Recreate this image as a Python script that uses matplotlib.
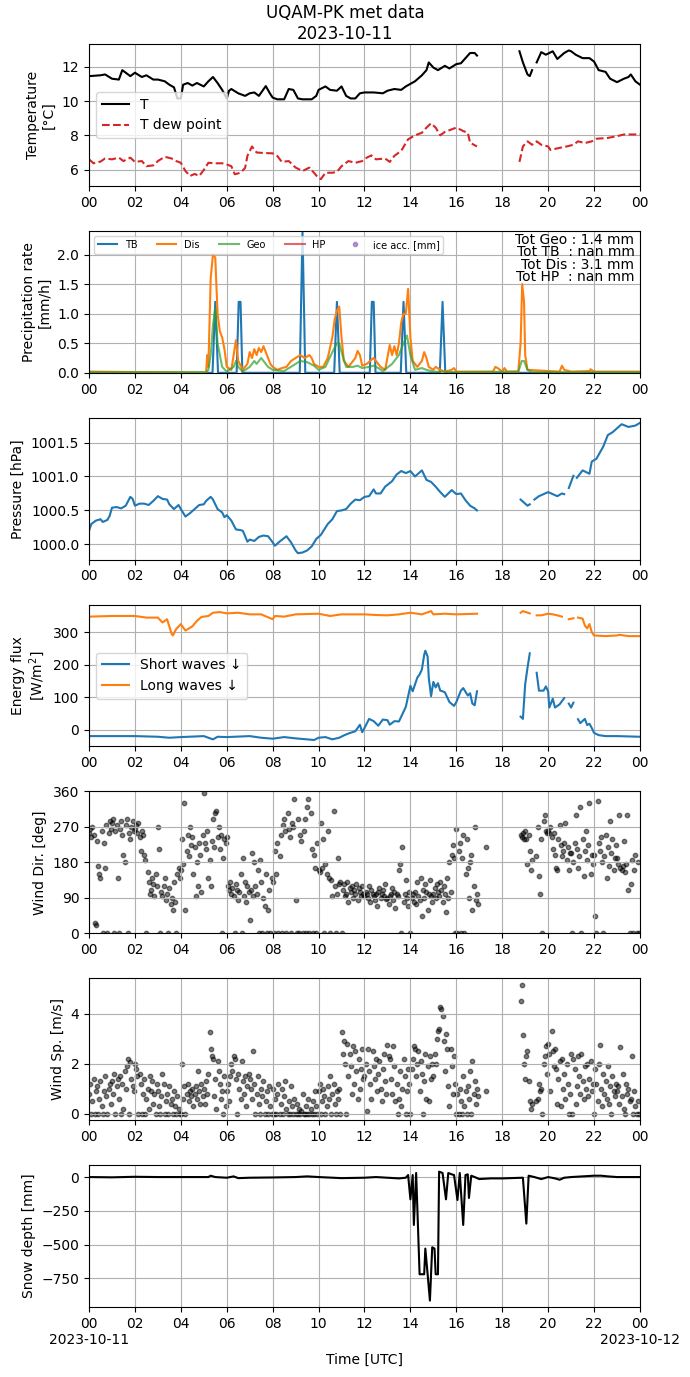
import numpy as np
import pandas as pd
import matplotlib
matplotlib.use("Agg")
import matplotlib.pyplot as plt
import matplotlib.dates as mdates

nan = np.nan
DAY = "2023-10-11"

# ---------------- Temperature ----------------
t_T = [0, 0.5, 0.7, 1.0, 1.3, 1.45, 1.5, 1.8, 2.0, 2.3, 2.5, 2.8, 3.0, 3.3, 3.5, 3.7, 3.85, 4.0, 4.1,
       4.3, 4.5, 4.7, 5.0, 5.2, 5.4, 5.6, 5.8, 6.0, 6.1, 6.2, 6.5, 6.8, 7.0, 7.2, 7.4, 7.7, 7.9, 8.0,
       8.2, 8.5, 8.7, 8.9, 9.1, 9.3, 9.7, 9.9, 10.0, 10.3, 10.5, 10.8, 11.0, 11.2, 11.4, 11.6, 11.8,
       12.0, 12.4, 12.8, 13.0, 13.3, 13.6, 13.8, 14.0, 14.2, 14.5, 14.7, 14.8, 15.0, 15.2, 15.5, 15.7,
       16.0, 16.2, 16.4, 16.6, 16.8, 16.9, 17.5, 18.75, 18.9, 19.1, 19.2, 19.3, 19.4, 19.5, 19.7,
       19.9, 20.2, 20.4, 20.7, 20.9, 21.0, 21.2, 21.5, 21.8, 22.0, 22.2, 22.5, 22.7, 23.0, 23.3, 23.5,
       23.6, 23.8, 24.0]
T_air = [11.45, 11.5, 11.55, 11.3, 11.25, 11.8, 11.75, 11.45, 11.65, 11.4, 11.5, 11.25, 11.25, 11.15,
         10.95, 10.8, 10.15, 10.15, 10.95, 11.05, 10.9, 11.05, 10.85, 11.15, 11.4, 11.05, 10.65, 10.15,
         10.6, 10.7, 10.45, 10.3, 10.45, 10.5, 10.3, 10.87, 10.4, 10.2, 10.1, 10.1, 10.7, 10.65, 10.15,
         10.1, 10.1, 10.3, 10.65, 10.85, 10.65, 10.6, 10.85, 10.3, 10.15, 10.15, 10.45, 10.5, 10.5,
         10.45, 10.6, 10.7, 10.65, 10.85, 11.0, 11.15, 11.5, 11.8, 12.25, 11.95, 11.8, 12.05, 11.9,
         12.15, 12.2, 12.5, 12.8, 12.8, 12.65, nan, 12.9, 12.25, 11.55, 11.45, 11.8, nan, 12.25, 12.85,
         12.7, 12.9, 12.45, 12.8, 12.95, 12.9, 12.7, 12.5, 12.5, 12.3, 11.8, 11.7, 11.3, 11.1, 11.3,
         11.4, 11.55, 11.15, 10.95]

t_Td = [0, 0.2, 0.5, 0.7, 1.0, 1.3, 1.5, 1.8, 2.0, 2.3, 2.5, 2.8, 3.0, 3.3, 3.6, 3.8, 4.0, 4.2, 4.4,
        4.6, 4.8, 5.0, 5.2, 5.5, 5.8, 6.0, 6.2, 6.35, 6.6, 6.8, 6.9, 7.1, 7.3, 7.6, 8.0, 8.2, 8.4, 8.7,
        9.0, 9.3, 9.6, 9.8, 10.0, 10.1, 10.3, 10.6, 10.8, 11.0, 11.3, 11.6, 11.9, 12.1, 12.3, 12.5,
        12.9, 13.1, 13.3, 13.6, 13.9, 14.2, 14.5, 14.7, 14.9, 15.1, 15.3, 15.5, 15.8, 16.0, 16.3, 16.5,
        16.6, 16.9, 17.5, 18.75, 18.9, 19.1, 19.3, 19.5, 19.7, 20.0, 20.1, 20.5, 20.8, 21.1, 21.3,
        21.6, 21.9, 22.1, 22.6, 23.0, 23.3, 23.6, 24.0]
T_dew = [6.6, 6.37, 6.47, 6.65, 6.6, 6.7, 6.5, 6.7, 6.45, 6.5, 6.2, 6.25, 6.5, 6.75, 6.65, 6.5, 6.4,
         5.92, 5.63, 5.75, 5.63, 5.98, 6.4, 6.37, 6.37, 6.3, 6.2, 5.73, 5.82, 6.1, 6.8, 7.35, 7.0, 6.97,
         6.95, 6.8, 6.45, 6.5, 6.12, 5.92, 6.12, 5.82, 5.5, 5.45, 5.82, 5.82, 5.87, 6.2, 6.5, 6.4, 6.5,
         6.7, 6.83, 6.6, 6.65, 6.45, 6.8, 7.1, 7.77, 8.0, 8.15, 8.45, 8.7, 8.45, 8.0, 8.2, 8.35, 8.45,
         8.25, 8.15, 7.57, 7.35, nan, 6.45, 7.35, 7.65, 7.45, 7.65, 7.45, 7.35, 7.15, 7.27, 7.35, 7.45,
         7.65, 7.55, 7.65, 7.8, 7.85, 7.95, 8.05, 8.05, 8.05]

# ---------------- Precipitation ----------------
t_TB = [0, 5.38, 5.5, 5.62, 6.43, 6.52, 6.6, 6.68, 9.18, 9.3, 9.42, 10.68, 10.8, 10.92, 12.23, 12.32,
        12.4, 12.48, 13.58, 13.7, 13.82, 15.28, 15.4, 15.52, 24]
TB = [0, 0, 1.2, 0, 0, 1.2, 1.2, 0, 0, 2.4, 0, 0, 1.2, 0, 0, 1.2, 1.2, 0, 0, 1.2, 0, 0, 1.2, 0, 0]

t_Dis = [0, 5.1, 5.15, 5.2, 5.3, 5.4, 5.5, 5.6, 5.7, 5.8, 5.9, 6.0, 6.2, 6.3, 6.4, 6.5, 6.7, 6.9, 7.0,
         7.1, 7.2, 7.3, 7.4, 7.5, 7.6, 7.7, 7.8, 7.9, 8.0, 8.2, 8.4, 8.6, 8.8, 9.0, 9.2, 9.4, 9.6, 9.7,
         9.8, 10.0, 10.2, 10.4, 10.6, 10.7, 10.8, 10.9, 11.0, 11.1, 11.3, 11.6, 11.7, 11.8, 11.9, 12.1,
         12.3, 12.4, 12.5, 12.7, 12.9, 13.1, 13.2, 13.3, 13.4, 13.5, 13.6, 13.7, 13.8, 13.9, 14.0, 14.1,
         14.3, 14.5, 14.6, 14.7, 14.8, 15.0, 15.1, 15.3, 15.5, 15.8, 15.9, 16.0, 17.6, 17.7, 17.8, 18.0,
         18.1, 18.2, 18.7, 18.8, 18.87, 18.95, 19.0, 19.1, 20.5, 20.6, 20.7, 21.0, 21.8, 21.85, 22.0, 24]
Dis = [0.02, 0.0, 0.3, 0.1, 1.6, 2.0, 1.95, 1.0, 0.7, 0.6, 0.4, 0.1, 0.05, 0.3, 0.55, 0.2, 0.05, 0.15,
       0.35, 0.25, 0.4, 0.3, 0.42, 0.35, 0.45, 0.35, 0.25, 0.15, 0.1, 0.05, 0.08, 0.1, 0.2, 0.25, 0.3,
       0.25, 0.3, 0.25, 0.15, 0.1, 0.1, 0.25, 0.6, 0.9, 1.05, 1.12, 0.6, 0.2, 0.1, 0.25, 0.37, 0.3, 0.12,
       0.15, 0.22, 0.25, 0.2, 0.1, 0.05, 0.47, 0.3, 0.45, 0.3, 0.5, 0.85, 1.0, 1.0, 1.42, 0.6, 0.2, 0.1,
       0.2, 0.35, 0.25, 0.1, 0.05, 0.1, 0.05, 0.02, 0.05, 0.08, 0.02, 0.02, 0.1, 0.08, 0.02, 0.08, 0.02,
       0.02, 0.5, 1.5, 1.2, 0.3, 0.05, 0.02, 0.12, 0.05, 0.02, 0.03, 0.06, 0.02, 0.02]

t_Geo = [0, 5.1, 5.2, 5.3, 5.4, 5.5, 5.6, 5.7, 5.8, 6.0, 6.3, 6.4, 6.5, 6.7, 7.0, 7.2, 7.3, 7.5, 7.6,
         7.8, 8.0, 8.5, 9.0, 9.2, 9.5, 9.8, 10.0, 10.3, 10.6, 10.8, 10.9, 11.0, 11.2, 11.5, 11.7, 11.9,
         12.2, 12.4, 12.6, 12.8, 13.2, 13.5, 13.7, 13.85, 14.0, 14.2, 14.5, 14.7, 15.0, 16.0, 18.7,
         18.85, 18.95, 19.1, 19.3, 24]
Geo = [0.01, 0.01, 0.05, 0.3, 0.8, 1.1, 0.5, 0.3, 0.1, 0.02, 0.1, 0.2, 0.1, 0.02, 0.1, 0.2, 0.15, 0.25,
       0.2, 0.1, 0.05, 0.03, 0.15, 0.2, 0.18, 0.12, 0.05, 0.1, 0.35, 0.5, 0.5, 0.35, 0.1, 0.1, 0.12,
       0.08, 0.1, 0.12, 0.08, 0.03, 0.15, 0.3, 0.5, 0.63, 0.3, 0.05, 0.08, 0.05, 0.02, 0.01, 0.02, 0.2,
       0.2, 0.05, 0.01, 0.01]

t_HP = [0, 24]
HP = [nan, nan]
ice_acc = []
tot_geo, tot_tb, tot_dis, tot_hp = 1.4, nan, 3.1, nan

# ---------------- Pressure ----------------
t_P = [0, 0.1, 0.3, 0.5, 0.6, 0.8, 0.9, 1.0, 1.2, 1.4, 1.6, 1.8, 1.9, 2.0, 2.2, 2.4, 2.6, 2.8, 3.0,
       3.2, 3.4, 3.5, 3.7, 3.9, 4.0, 4.2, 4.4, 4.6, 4.8, 5.0, 5.1, 5.3, 5.4, 5.6, 5.8, 5.9, 6.0, 6.2,
       6.4, 6.6, 6.7, 6.9, 7.0, 7.2, 7.4, 7.6, 7.8, 8.0, 8.1, 8.3, 8.6, 8.8, 9.0, 9.1, 9.3, 9.5, 9.7,
       9.9, 10.1, 10.4, 10.6, 10.8, 11.0, 11.2, 11.4, 11.6, 11.8, 12.0, 12.2, 12.4, 12.5, 12.7, 12.9,
       13.2, 13.4, 13.6, 13.8, 14.0, 14.2, 14.5, 14.7, 14.9, 15.1, 15.3, 15.5, 15.8, 16.0, 16.2, 16.4,
       16.6, 16.8, 16.9, 17.5, 18.8, 19.1, 19.2, 19.3, 19.4, 19.6, 19.8, 20.0, 20.2, 20.4, 20.6, 20.7,
       20.8, 20.9, 21.1, 21.18, 21.25, 21.5, 21.8, 21.9, 22.1, 22.4, 22.6, 22.8, 23.0, 23.2, 23.5, 23.8,
       24.0]
P = [1000.2, 1000.3, 1000.35, 1000.37, 1000.33, 1000.36, 1000.42, 1000.54, 1000.55, 1000.53, 1000.57,
     1000.7, 1000.67, 1000.57, 1000.6, 1000.6, 1000.58, 1000.64, 1000.71, 1000.67, 1000.66, 1000.59,
     1000.52, 1000.58, 1000.52, 1000.41, 1000.46, 1000.52, 1000.58, 1000.59, 1000.64, 1000.7, 1000.66,
     1000.52, 1000.47, 1000.4, 1000.43, 1000.35, 1000.22, 1000.21, 1000.2, 1000.04, 1000.07, 1000.05,
     1000.11, 1000.13, 1000.12, 1000.03, 999.98, 1000.04, 1000.12, 1000.03, 999.91, 999.87, 999.88,
     999.91, 999.97, 1000.08, 1000.14, 1000.3, 1000.37, 1000.49, 1000.5, 1000.52, 1000.6, 1000.66,
     1000.65, 1000.7, 1000.71, 1000.81, 1000.75, 1000.75, 1000.85, 1000.93, 1001.03, 1001.08, 1001.05,
     1001.08, 1001.0, 1001.09, 1000.95, 1000.92, 1000.85, 1000.77, 1000.7, 1000.8, 1000.74, 1000.75,
     1000.65, 1000.57, 1000.53, 1000.5, nan, 1000.66, 1000.57, 1000.59, nan, 1000.66, 1000.71, 1000.74,
     1000.77, 1000.74, 1000.71, 1000.75, 1000.74, nan, 1000.83, 1001.01, nan, 1000.98, 1001.09,
     1001.04, 1001.22, 1001.26, 1001.44, 1001.61, 1001.65, 1001.71, 1001.77, 1001.73, 1001.75, 1001.79]

# ---------------- Radiation ----------------
t_SW = [0, 1, 2, 3, 3.5, 4, 5, 5.4, 5.6, 6, 7, 7.5, 8, 8.5, 9, 9.5, 9.8, 10, 10.3, 10.6, 10.9, 11.1,
        11.3, 11.6, 11.8, 11.9, 12.0, 12.2, 12.4, 12.6, 12.8, 13.0, 13.1, 13.3, 13.5, 13.6, 13.8, 14.0,
        14.1, 14.3, 14.4, 14.5, 14.6, 14.65, 14.75, 14.8, 14.9, 15.0, 15.1, 15.2, 15.3, 15.4, 15.5, 15.7,
        15.9, 16.0, 16.2, 16.3, 16.5, 16.6, 16.7, 16.8, 16.9, 17.5, 18.8, 18.9, 19.0, 19.1, 19.2, 19.35,
        19.5, 19.6, 19.8, 19.9, 20.0, 20.05, 20.2, 20.3, 20.5, 20.7, 20.8, 20.9, 21.0, 21.1, 21.2, 21.3,
        21.4, 21.6, 21.7, 21.8, 21.9, 22.0, 22.2, 22.5, 23, 24]
SW = [-20, -20, -20, -22, -25, -23, -20, -30, -22, -23, -20, -25, -28, -23, -27, -30, -32, -25, -23, -30,
      -25, -18, -12, -5, 15, -8, 5, 33, 26, 12, 31, 29, 15, 26, 25, 40, 70, 135, 118, 160, 170, 185, 230,
      243, 225, 160, 103, 147, 130, 143, 120, 118, 115, 85, 73, 85, 120, 128, 105, 112, 80, 75, 118, nan,
      40, 33, 140, 190, 235, nan, 175, 120, 120, 133, 118, 68, 95, 68, 78, 97, nan, 80, 68, 83, nan, 32,
      20, 33, 14, 18, 5, -10, -17, -20, -20, -22]

t_LW = [0, 1, 2, 2.5, 3, 3.2, 3.4, 3.6, 3.65, 3.8, 4.0, 4.2, 4.5, 4.7, 4.9, 5.2, 5.4, 5.7, 6, 6.5, 7,
        7.5, 8.0, 8.1, 8.5, 9, 10, 10.5, 11, 12, 12.5, 13, 13.5, 14, 14.5, 14.9, 15.0, 15.5, 16, 16.9,
        17.5, 18.8, 18.9, 19.2, 19.35, 19.5, 19.7, 20.0, 20.2, 20.4, 20.6, 20.75, 20.9, 21.1, 21.2, 21.3,
        21.5, 21.6, 21.7, 21.8, 21.9, 22.0, 22.5, 23, 23.1, 23.5, 24]
LW = [348, 350, 350, 345, 345, 330, 340, 295, 290, 310, 325, 305, 318, 335, 347, 350, 360, 362, 358,
      360, 355, 355, 340, 350, 348, 355, 357, 350, 355, 355, 353, 352, 355, 360, 355, 365, 355, 357,
      355, 357, nan, 360, 365, 358, nan, 352, 352, 357, 355, 352, 348, nan, 340, 343, nan, 345, 342, 320,
      312, 325, 300, 290, 288, 290, 292, 288, 288]

# ---------------- Wind (3-min samples, one row per hour) ----------------
wind_dir = [
    255, 265, 245, 270, 250, 25, 20, 235, 170, 150, 140, 260, 0, 230, 165, 275, 0, 255, 285, 265,
    280, 290, 0, 260, 275, 140, 0, 265, 285, 250, 200, 180, 275, 290, 0, 255, 240, 270, 285, 260,
    265, 275, 255, 280, 245, 210, 260, 250, 200, 185, 0, 155, 130, 100, 110, 140, 125, 95, 150, 120,
    270, 215, 0, 105, 95, 120, 140, 85, 100, 0, 115, 75, 90, 60, 130, 80, 0, 150, 165, 140,
    160, 240, 175, 330, 60, 210, 250, 195, 270, 225, 245, 150, 220, 95, 180, 120, 230, 200, 105, 250,
    355, 230, 215, 260, 140, 185, 120, 235, 290, 220, 305, 310, 245, 270, 215, 250, 0, 190, 240, 230,
    245, 120, 110, 130, 100, 115, 95, 0, 125, 110, 85, 105, 150, 0, 190, 95, 130, 80, 120, 105,
    35, 110, 205, 95, 180, 120, 100, 160, 0, 185, 130, 0, 90, 70, 150, 0, 60, 110, 0, 140,
    130, 0, 210, 150, 230, 0, 195, 250, 0, 275, 290, 260, 0, 305, 265, 245, 0, 280, 270, 340,
    85, 0, 290, 0, 250, 235, 0, 260, 290, 0, 320, 340, 0, 305, 215, 0, 200, 165, 0, 230,
    160, 155, 280, 165, 240, 0, 175, 150, 260, 140, 0, 135, 95, 310, 120, 0, 100, 190, 125, 130,
    0, 110, 125, 95, 100, 130, 80, 115, 105, 120, 90, 110, 100, 125, 85, 115, 105, 95, 120, 100,
    95, 105, 100, 90, 120, 80, 110, 100, 95, 85, 100, 70, 105, 115, 90, 100, 110, 95, 125, 88,
    90, 75, 95, 100, 115, 85, 105, 65, 100, 95, 160, 175, 0, 220, 80, 100, 135, 90, 70, 105,
    0, 90, 100, 80, 105, 75, 130, 95, 85, 140, 45, 110, 90, 125, 105, 60, 100, 135, 95, 80,
    100, 115, 90, 125, 105, 95, 130, 110, 80, 120, 100, 55, 140, 90, 180, 105, 200, 225, 190, 0,
    265, 0, 210, 230, 0, 190, 250, 0, 150, 240, 165, 90, 180, 200, 60, 120, 270, 85, 100, 75,
    nan, nan, nan, nan, nan, nan, 220, nan, nan, nan, nan, nan, nan, nan, nan, nan, nan, nan, nan, nan,
    nan, nan, nan, nan, nan, nan, nan, nan, nan, nan, nan, nan, nan, nan, nan, nan, 250, 245, 255, 240,
    260, 240, 175, 250, 210, 160, 185, nan, nan, 195, nan, 270, 145, 100, 240, 0, 285, 300, 260, 255,
    260, 255, 270, 245, 215, 255, 200, 165, 160, 240, 275, 225, 195, 210, 230, 280, 185, 220, 160, 205,
    205, 0, 180, 230, 300, 215, 165, 195, 320, 0, 240, 145, 210, 260, 185, 225, 330, 150, 200, 175,
    200, 45, 0, 335, 230, 210, 245, 180, 0, 195, 250, 140, 220, 170, 285, 205, 240, 160, 190, 225,
    190, 175, 300, 165, 160, 170, 235, 155, 175, 300, 110, 0, 125, 185, 0, 160, 200, 0, 180, 0,
]
wind_sp = [
    0.8, 1.2, 0, 0.5, 1.4, 0, 0.9, 1.1, 0, 0.6, 1.3, 0.3, 0, 0.9, 1.5, 0.7, 0, 1.0, 1.2, 0.4,
    1.3, 0.8, 1.6, 0, 1.1, 1.4, 0.6, 1.5, 0, 1.2, 0.2, 1.7, 1.0, 1.9, 2.2, 0, 2.05, 1.4, 1.1, 0.9,
    2.0, 1.8, 1.5, 0, 1.6, 1.2, 0, 0.8, 1.4, 0, 0.6, 1.0, 0.2, 1.5, 0.9, 1.3, 0.4, 0.8, 0, 1.2,
    0.9, 0.3, 0, 0.7, 1.6, 1.2, 0, 0.5, 0.8, 0, 1.1, 0.4, 0.6, 0, 0.9, 0.3, 0, 0.7, 0.2, 0,
    0, 2.0, 0.6, 1.1, 0, 0.8, 1.2, 0.5, 0.9, 0.7, 1.0, 0.3, 0.8, 1.1, 0.6, 1.7, 0.9, 0.4, 1.2, 0.7,
    1.0, 0.4, 1.3, 0.8, 1.6, 3.25, 2.6, 2.3, 2.2, 0.7, 1.4, 0.2, 2.1, 1.7, 1.2, 0.6, 0.9, 0, 1.5, 0.3,
    0.9, 1.2, 0.5, 1.5, 2.0, 1.7, 2.3, 2.2, 1.4, 0, 1.6, 1.0, 0.6, 2.1, 1.3, 0.8, 1.5, 0.3, 1.1, 1.6,
    1.4, 1.0, 0.6, 2.5, 1.2, 0, 0.8, 1.5, 0.4, 0, 1.0, 0.7, 1.3, 0, 0.5, 0.9, 0, 1.1, 0.3, 0,
    1.0, 0, 0.6, 0, 0.8, 1.2, 0, 0.4, 1.0, 0, 0.7, 1.3, 0.2, 0, 0.5, 0, 1.1, 0.3, 0, 0.6,
    0, 0.4, 0, 0.2, 0, 0.1, 0.8, 0, 0, 0.3, 0, 0.6, 0, 0.2, 0, 0.5, 0, 0.9, 0.3, 0,
    0.9, 1.2, 0, 0.5, 1.0, 0.7, 0, 0.3, 1.1, 0.6, 1.5, 0, 0.8, 1.2, 0.4, 0, 0.9, 0.6, 1.0, 0,
    3.25, 2.4, 2.9, 2.0, 0, 2.8, 1.5, 2.4, 1.9, 0.8, 2.7, 1.2, 2.5, 1.7, 0.6, 2.2, 1.0, 1.8, 2.6, 1.4,
    1.5, 2.0, 0.1, 2.6, 1.7, 1.2, 0.6, 2.5, 1.9, 1.4, 2.2, 0.9, 1.6, 2.1, 1.0, 0.5, 1.8, 2.4, 1.3, 0.8,
    2.75, 2.3, 2.2, 1.4, 0.8, 2.7, 1.9, 0.5, 1.2, 0, 0.6, 1.7, 0.3, 1.0, 2.2, 1.5, 0, 0.9, 1.8, 1.2,
    0, 1.8, 2.2, 2.7, 2.6, 1.5, 2.0, 2.5, 0.9, 2.1, 1.6, 0, 1.3, 2.4, 0.6, 1.9, 0.5, 2.3, 1.4, 2.0,
    1.5, 2.4, 2.0, 3.0, 3.3, 3.4, 4.25, 4.2, 3.9, 2.9, 1.7, 3.2, 2.6, 1.1, 0.3, 2.6, 1.9, 0.8, 2.3, 1.2,
    0, 0.8, 0, 1.0, 0.5, 0, 1.5, 0.3, 0.9, 0, 1.1, 0.6, 1.7, 0, 2.1, 0.8, 1.3, 0.4, 1.0, 0.7,
    nan, nan, nan, nan, nan, nan, 0.9, nan, nan, nan, nan, nan, nan, nan, nan, nan, nan, nan, nan, nan,
    nan, nan, nan, nan, nan, nan, nan, nan, nan, nan, nan, nan, nan, nan, nan, nan, 4.5, 5.15, 3.15, 2.0,
    1.4, 2.3, 2.5, 1.3, 0.5, 0.2, 0.4, nan, nan, 0.5, nan, 0.6, 1.2, 0.9, 1.0, 0, 2.0, 2.3, 2.7, 1.6,
    2.8, 2.4, 0.9, 3.3, 2.5, 1.9, 2.6, 1.8, 0.4, 1.4, 2.1, 0.3, 2.2, 1.0, 1.6, 0.6, 2.0, 1.2, 0, 0.8,
    2.4, 0, 2.2, 1.8, 0.4, 1.1, 2.3, 1.5, 0.8, 2.4, 1.3, 0.6, 1.9, 1.0, 2.0, 0.7, 1.4, 2.1, 0.9, 1.2,
    0, 1.8, 1.2, 0.5, 2.0, 2.75, 1.0, 0.3, 1.6, 0.8, 1.3, 0.6, 1.9, 0.4, 1.1, 0, 1.5, 0.9, 0.7, 1.2,
    0.9, 1.1, 0.4, 2.65, 0.7, 1.6, 0.2, 0, 1.2, 0.8, 1.0, 0.5, 0.6, 2.3, 0, 0.9, 0.3, 0, 0.5, 0,
]

# ---------------- Snow depth ----------------
t_SD = [0, 1, 2, 3, 4, 5.2, 5.3, 5.5, 6, 6.3, 6.5, 7, 8, 9, 9.5, 10, 11, 12, 12.5, 13, 13.5, 13.8, 13.9,
        14.0, 14.1, 14.15, 14.25, 14.4, 14.6, 14.65, 14.75, 14.85, 14.95, 15.05, 15.1, 15.2, 15.25,
        15.4, 15.55, 15.65, 15.8, 15.9, 16.05, 16.15, 16.3, 16.4, 16.5, 16.55, 16.65, 16.8, 17.0, 17.5,
        18, 18.9, 19.05, 19.15, 19.4, 19.7, 20.0, 20.3, 20.5, 20.7, 21, 21.5, 22, 22.3, 22.6, 23, 24]
SD = [0, -2, 2, 0, 0, 0, 10, 0, -5, 5, -8, -5, -3, 0, 5, 0, -8, -5, 0, -5, -10, -5, 15, -165, 15, -355,
      30, -720, -720, -530, -720, -915, -520, -530, -720, -720, 40, 30, -165, 30, 20, 15, -170, 30,
      -355, 15, 20, -155, 10, 0, -15, -10, -10, -5, -345, 10, 0, -15, 0, -10, -20, -5, 0, 5, 10, 10, 5,
      0, 0]


def tt(hours):
    return pd.Timestamp(DAY) + pd.to_timedelta(np.asarray(hours, dtype=float), unit="h")


t3 = pd.date_range(DAY, periods=len(wind_dir), freq="3min")

fig, axes = plt.subplots(7, 1, figsize=(6.9, 13.77), dpi=100)
fig.subplots_adjust(left=0.129, right=0.9275, top=0.968, bottom=0.0508, hspace=0.317)
fig.suptitle("UQAM-PK met data\n" + DAY, fontsize=12, y=0.997)

# 1 temperature
ax = axes[0]
ax.plot(tt(t_T), T_air, color="black", label="T")
ax.plot(tt(t_Td), T_dew, color="tab:red", ls="--", label="T dew point")
ax.set_ylim(5.05, 13.32)
ax.set_ylabel("Temperature\n[°C]")
ax.legend(loc="center left")

# 2 precipitation
ax = axes[1]
ax.plot(tt(t_TB), TB, color="tab:blue", label="TB")
ax.plot(tt(t_Dis), Dis, color="tab:orange", label="Dis")
ax.plot(tt(t_Geo), Geo, color="tab:green", alpha=0.7, label="Geo")
ax.plot(tt(t_HP), HP, color="tab:red", alpha=0.7, label="HP")
ax.plot(tt(ice_acc), ice_acc, "o", ms=3, color="tab:purple", alpha=0.7, label="ice acc. [mm]")
ax.set_ylim(0, 2.4)
ax.set_ylabel("Precipitation rate\n[mm/h]")
ax.legend(loc="upper left", ncol=5, fontsize=7)
ax.text(0.99, 0.985,
        f"Tot Geo : {tot_geo:.1f} mm\nTot TB  : {tot_tb:.1f} mm\n"
        f"Tot Dis : {tot_dis:.1f} mm\nTot HP  : {tot_hp:.1f} mm",
        transform=ax.transAxes, ha="right", va="top", fontsize=10, linespacing=0.85,
        multialignment="right")

# 3 pressure
ax = axes[2]
ax.plot(tt(t_P), P, color="tab:blue")
ax.set_ylim(999.775, 1001.865)
ax.set_ylabel("Pressure [hPa]")

# 4 radiation
ax = axes[3]
ax.plot(tt(t_SW), SW, color="tab:blue", label="Short waves ↓")
ax.plot(tt(t_LW), LW, color="tab:orange", label="Long waves ↓")
ax.set_ylim(-52, 385)
ax.set_ylabel("Energy flux\n[W/m$^2$]")
ax.legend(loc="center left")

# 5 wind dir
ax = axes[4]
ax.scatter(t3, wind_dir, s=10, color="black", alpha=0.5)
ax.set_ylim(0, 360)
ax.set_yticks([0, 90, 180, 270, 360])
ax.set_ylabel("Wind Dir. [deg]")

# 6 wind speed
ax = axes[5]
ax.scatter(t3, wind_sp, s=10, color="black", alpha=0.5)
ax.set_ylim(-0.26, 5.41)
ax.set_ylabel("Wind Sp. [m/s]")

# 7 snow depth
ax = axes[6]
ax.plot(tt(t_SD), SD, color="black")
ax.set_ylim(-963, 88)
ax.set_yticks([0, -250, -500, -750])
ax.set_ylabel("Snow depth [mm]")
ax.set_xlabel("Time [UTC]")

start = pd.Timestamp(DAY)
for ax in axes:
    ax.set_xlim(start, start + pd.Timedelta(days=1))
    ax.xaxis.set_major_locator(mdates.HourLocator(byhour=range(0, 24, 2)))
    ax.xaxis.set_major_formatter(mdates.DateFormatter("%H"))
    ax.grid(True)

# date labels under the midnight ticks of the bottom panel
bax = axes[-1]
bax.xaxis.remove_overlapping_locs = False
bax.xaxis.set_minor_locator(mdates.DayLocator())
bax.xaxis.set_minor_formatter(mdates.DateFormatter("%Y-%m-%d"))
bax.tick_params(axis="x", which="minor", length=0, pad=19)

fig.savefig("out.png", dpi=100)
